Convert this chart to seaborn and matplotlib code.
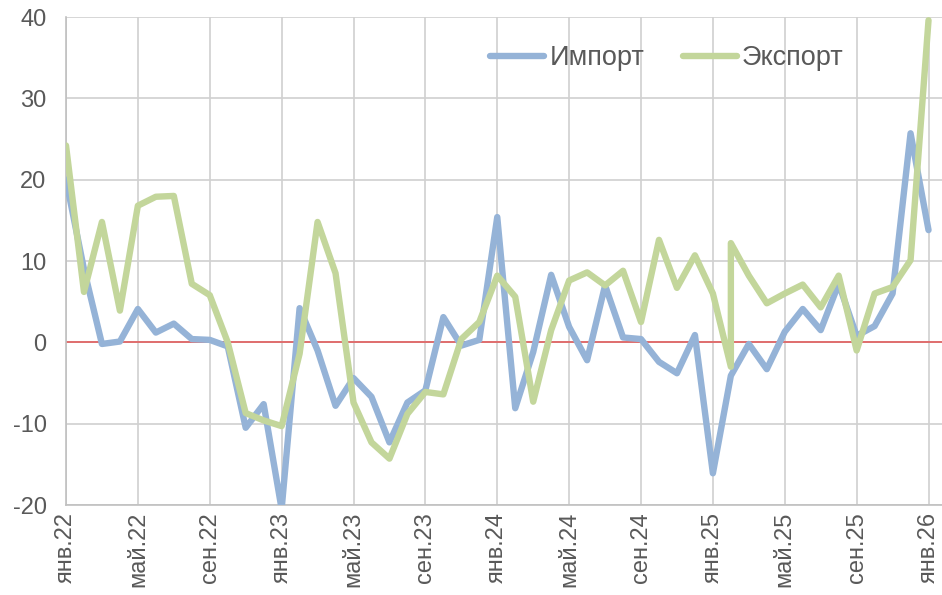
import matplotlib
matplotlib.use("Agg")
import matplotlib.pyplot as plt
import seaborn as sns
import pandas as pd

# ---- data ----
tick_labels = ["янв.22", "май.22", "сен.22", "янв.23", "май.23", "сен.23", "янв.24",
               "май.24", "сен.24", "янв.25", "май.25", "сен.25", "янв.26"]
tick_pos = list(range(0, 49, 4))

import_x = list(range(49))
import_vals = [20, 9, -0.2, 0.1, 4.1, 1.2, 2.3, 0.4, 0.3, -0.5, -10.5, -7.6, -20.5,
               4.2, -1.0, -7.8, -4.4, -6.7, -12.3, -7.4, -5.9, 3.1, -0.4, 0.3,
               15.4, -8.1, -1.2, 8.3, 1.9, -2.2, 7.0, 0.6, 0.4, -2.4, -3.8, 0.9,
               -16.1, -4.1, -0.2, -3.3, 1.3, 4.1, 1.5, 7.2, 0.8, 2.0, 6.0, 25.7, 13.8]

export_x = list(range(38)) + [37] + list(range(38, 49))
export_vals = [24.2, 6.2, 14.8, 3.9, 16.8, 17.9, 18.0, 7.2, 5.8, 0.0, -8.7, -9.6, -10.3,
               -1.4, 14.8, 8.5, -7.4, -12.3, -14.3, -8.8, -6.1, -6.4, 0.4, 2.5,
               8.2, 5.6, -7.3, 1.5, 7.6, 8.6, 7.0, 8.8, 2.5, 12.6, 6.7, 10.7,
               6.0, -3.0, 12.2, 8.2, 4.8, 6.0, 7.1, 4.3, 8.2, -1.0, 6.0, 6.8, 10.1, 39.6]

series_names = ["Импорт", "Экспорт"]
colors = ["#95B3D7", "#C3D69B"]

df = pd.concat([
    pd.DataFrame({"m": import_x, "v": import_vals, "s": series_names[0]}),
    pd.DataFrame({"m": export_x, "v": export_vals, "s": series_names[1]}),
], ignore_index=True)

# ---- style ----
sns.set_theme(style="white")
plt.rcParams["font.family"] = ["Liberation Sans", "DejaVu Sans"]

fig = plt.figure(figsize=(9.42, 5.95), dpi=100)
ax = fig.add_axes([66 / 942, 1 - 505 / 595, (942 - 66) / 942, (505 - 17) / 595])

sns.lineplot(data=df, x="m", y="v", hue="s", palette=dict(zip(series_names, colors)),
             estimator=None, sort=False, linewidth=4.6, ax=ax, legend=False, zorder=3)
for ln in ax.lines:
    ln.set_solid_joinstyle("round")
    ln.set_solid_capstyle("round")

ax.axhline(0, color="#E06666", lw=1.3, zorder=2)

ax.set_xlim(0, 48.75)
ax.set_ylim(-20, 40)
ax.set_yticks(range(-20, 41, 10))
ax.set_yticklabels([str(v) for v in range(-20, 41, 10)])
ax.set_xticks(tick_pos)
ax.set_xticklabels(tick_labels, rotation=90)
ax.tick_params(axis="both", length=0, labelsize=17, labelcolor="#595959")
ax.tick_params(axis="x", pad=5)
ax.tick_params(axis="y", pad=14)
ax.set_xlabel("")
ax.set_ylabel("")

ax.grid(True, color="#D0D0D0", lw=1.2, zorder=0)
ax.set_axisbelow(True)
for side in ["top", "right"]:
    ax.spines[side].set_visible(False)
for side in ["left", "bottom"]:
    ax.spines[side].set_color("#C0C0C0")
    ax.spines[side].set_linewidth(1.2)

handles = [plt.Line2D([], [], color=c, lw=4.6, solid_capstyle="round") for c in colors]
leg = ax.legend(handles, series_names, loc="center right", bbox_to_anchor=(0.888, 0.916),
                frameon=False, ncol=2, fontsize=19.5, handlelength=2.0, handletextpad=0.2,
                columnspacing=1.4, borderpad=0, borderaxespad=0)
for t in leg.get_texts():
    t.set_color("#595959")

fig.savefig("out.png", dpi=100)
